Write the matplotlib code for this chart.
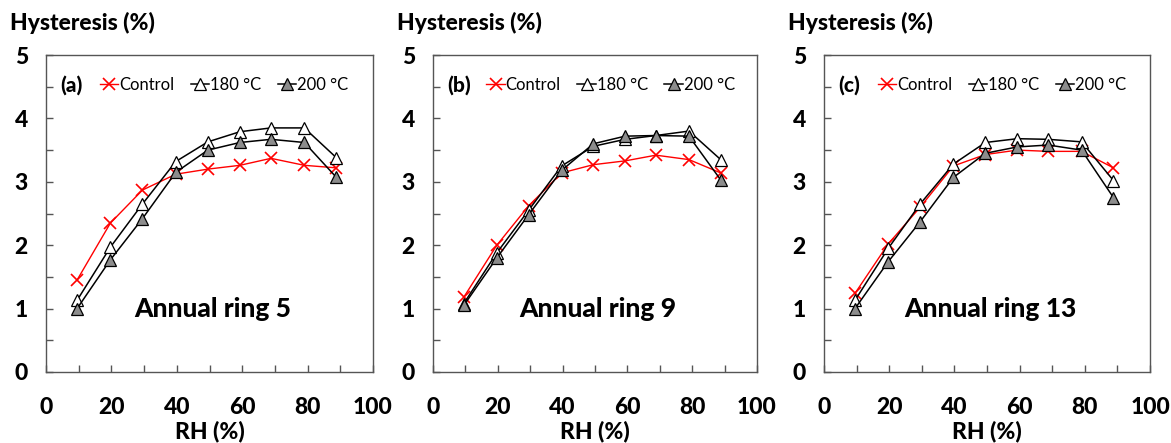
import matplotlib
matplotlib.use("Agg")
import matplotlib.pyplot as plt
from matplotlib.ticker import MultipleLocator

plt.rcParams['font.family'] = ['Lato', 'DejaVu Sans']

# data
rh = [9.5, 19.7, 29.5, 39.7, 49.5, 59.3, 68.8, 79.0, 88.8]

control_a = [1.45, 2.35, 2.87, 3.12, 3.20, 3.26, 3.37, 3.26, 3.22]
t180_a = [1.13, 1.97, 2.65, 3.32, 3.63, 3.79, 3.85, 3.85, 3.38]
t200_a = [1.00, 1.77, 2.42, 3.15, 3.50, 3.62, 3.67, 3.62, 3.07]

control_b = [1.18, 2.00, 2.62, 3.14, 3.27, 3.33, 3.42, 3.35, 3.14]
t180_b = [1.08, 1.88, 2.55, 3.25, 3.56, 3.67, 3.73, 3.80, 3.35]
t200_b = [1.05, 1.80, 2.48, 3.18, 3.60, 3.72, 3.73, 3.72, 3.03]

control_c = [1.24, 2.02, 2.60, 3.25, 3.43, 3.50, 3.48, 3.48, 3.22]
t180_c = [1.13, 1.95, 2.65, 3.28, 3.62, 3.68, 3.67, 3.63, 3.02]
t200_c = [1.00, 1.74, 2.37, 3.07, 3.45, 3.55, 3.58, 3.50, 2.75]

panels = [
    ('(a)', 'Annual ring 5', control_a, t180_a, t200_a),
    ('(b)', 'Annual ring 9', control_b, t180_b, t200_b),
    ('(c)', 'Annual ring 13', control_c, t180_c, t200_c),
]

fig = plt.figure(figsize=(11.71, 4.43), dpi=100)
lefts = [46, 433, 824]
widths = [327, 324, 326]
W = 'black'

for (tag, ring, ctrl, s180, s200), lx, w in zip(panels, lefts, widths):
    ax = fig.add_axes([lx / 1171, 1 - 372 / 443, w / 1171, 317 / 443])
    ax.plot(rh, ctrl, '-x', color='red', lw=1.0, ms=8, mew=1.2, label='Control')
    ax.plot(rh, s180, '-^', color='black', lw=1.1, ms=8.5, mfc='white', mec='black',
            mew=0.9, label='180 °C')
    ax.plot(rh, s200, '-^', color='black', lw=1.1, ms=8.5, mfc='#8c8c8c', mec='black',
            mew=0.9, label='200 °C')

    ax.set_xlim(0, 100)
    ax.set_ylim(0, 5)
    ax.xaxis.set_major_locator(MultipleLocator(20))
    ax.xaxis.set_minor_locator(MultipleLocator(10))
    ax.yaxis.set_major_locator(MultipleLocator(1))
    ax.yaxis.set_minor_locator(MultipleLocator(0.5))
    ax.tick_params(which='both', direction='in', length=5, width=1, color='#555555')
    ax.tick_params(axis='x', which='major', labelsize=16.5, pad=18)
    ax.tick_params(axis='y', which='major', labelsize=16.5, pad=13)
    for lab in ax.get_xticklabels() + ax.get_yticklabels():
        lab.set_fontweight(W)
    for sp in ax.spines.values():
        sp.set_color('#555555')
        sp.set_linewidth(1.0)

    ax.set_xlabel('RH (%)', fontsize=16.5, fontweight=W, labelpad=2)
    ax.text(-0.11, 1.065, 'Hysteresis (%)', transform=ax.transAxes, fontsize=16.5,
            fontweight=W, va='bottom', ha='left')
    ax.text(0.045, 0.905, tag, transform=ax.transAxes, fontsize=15,
            fontweight=W, va='center', ha='left')
    ax.text(51, 1.0, ring, fontsize=19, fontweight=W, ha='center', va='center')

    ax.legend(loc='center left', bbox_to_anchor=(0.165, 0.905), ncol=3, frameon=False,
              fontsize=12, handlelength=1.1, handletextpad=0.05, columnspacing=1.0,
              borderaxespad=0, borderpad=0)

fig.savefig('out.png', dpi=100)
